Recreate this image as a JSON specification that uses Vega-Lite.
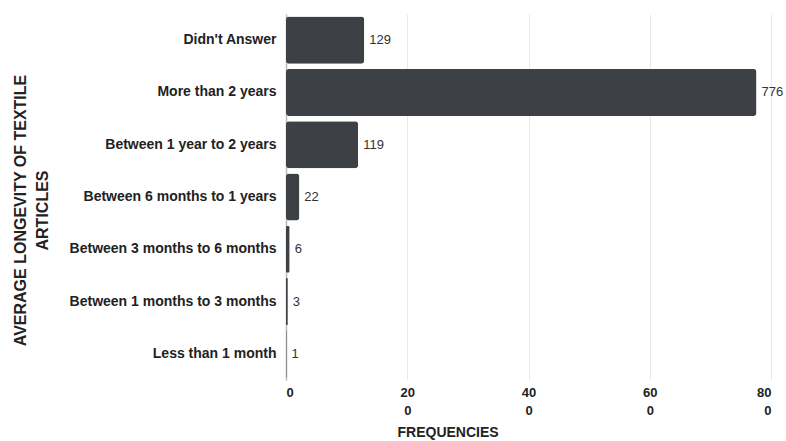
{
  "$schema": "https://vega.github.io/schema/vega-lite/v6.json",
  "width": 485,
  "height": 366,
  "autosize": {"type": "none"},
  "padding": {"left": 286, "top": 14, "right": 15, "bottom": 61},
  "background": "white",
  "config": {
    "view": {"stroke": null},
    "font": "Liberation Sans"
  },
  "data": {
    "values": [
      {"category": "Didn't Answer", "frequency": 129},
      {"category": "More than 2 years", "frequency": 776},
      {"category": "Between 1 year to 2 years", "frequency": 119},
      {"category": "Between 6 months to 1 years", "frequency": 22},
      {"category": "Between 3 months to 6 months", "frequency": 6},
      {"category": "Between 1 months to 3 months", "frequency": 3},
      {"category": "Less than 1 month", "frequency": 1}
    ]
  },
  "encoding": {
    "y": {
      "field": "category",
      "type": "nominal",
      "sort": null,
      "scale": {"paddingInner": 0.1, "paddingOuter": 0.05},
      "axis": {
        "title": ["AVERAGE LONGEVITY OF TEXTILE", "ARTICLES"],
        "titleFont": "Liberation Sans",
        "titleFontSize": 16,
        "titleFontWeight": "bold",
        "titleColor": "#222222",
        "titleX": -258,
        "titleY": 196,
        "titleLineHeight": 22,
        "labelFont": "Liberation Sans",
        "labelFontSize": 14,
        "labelFontWeight": "bold",
        "labelColor": "#222222",
        "labelPadding": 10,
        "labelLimit": 300,
        "ticks": false,
        "domain": true,
        "domainColor": "#bbbbbb",
        "domainWidth": 1.5,
        "grid": false
      }
    },
    "x": {
      "field": "frequency",
      "type": "quantitative",
      "scale": {"domain": [0, 800], "nice": false},
      "axis": {
        "values": [0, 200, 400, 600, 800],
        "labelExpr": "datum.value == 0 ? '0' : [slice(datum.label, 0, 2), slice(datum.label, 2)]",
        "labelFont": "Liberation Sans",
        "labelFontSize": 13,
        "labelFontWeight": "bold",
        "labelColor": "#222222",
        "labelLineHeight": 18,
        "labelPadding": 6,
        "ticks": false,
        "domain": false,
        "grid": true,
        "gridColor": "#e8e8e8",
        "gridWidth": 1,
        "title": "FREQUENCIES",
        "titleFont": "Liberation Sans",
        "titleFontSize": 14,
        "titleFontWeight": "bold",
        "titleColor": "#222222",
        "titleAlign": "left",
        "titleAnchor": "start",
        "titleX": 111,
        "titleY": 45
      }
    }
  },
  "layer": [
    {
      "mark": {"type": "bar", "color": "#3d4146", "cornerRadius": 3}
    },
    {
      "mark": {"type": "text", "align": "left", "dx": 5, "fontSize": 13, "color": "#333333", "font": "Liberation Sans"},
      "encoding": {"text": {"field": "frequency", "type": "quantitative"}}
    }
  ]
}
